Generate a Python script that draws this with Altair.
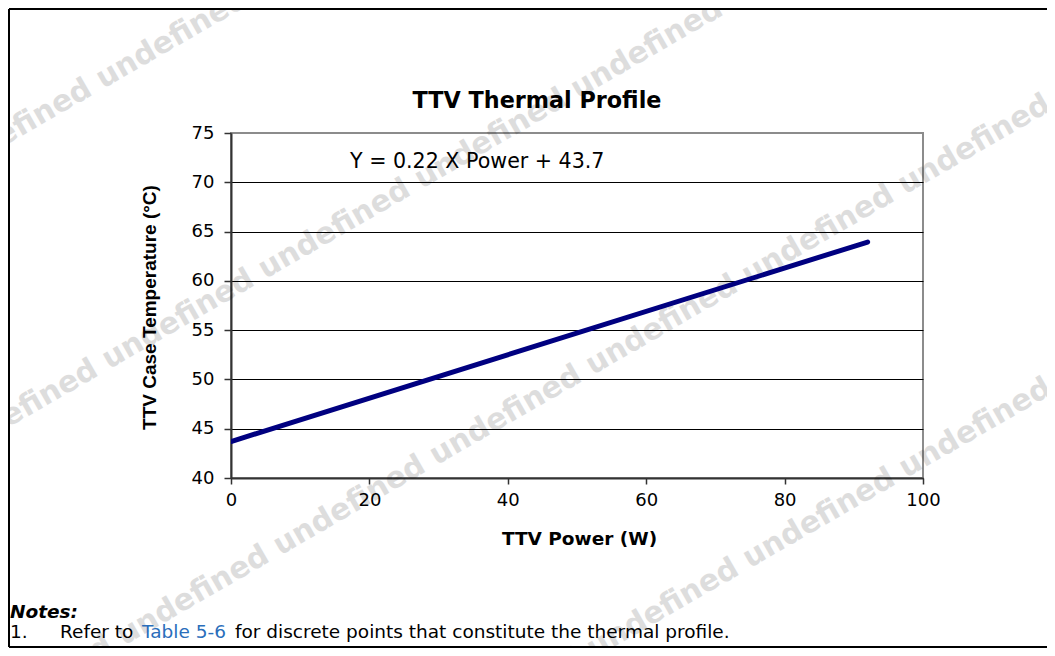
import altair as alt
import pandas as pd

# ---- data ----
power = [0, 92]                 # TTV Power (W)
temperature = [43.7, 63.94]     # TTV Case Temperature (°C)

x_ticks = [0, 20, 40, 60, 80, 100]
y_ticks = [40, 45, 50, 55, 60, 65, 70, 75]

chart_title = "TTV Thermal Profile"
x_title = "TTV Power (W)"
y_title = "TTV Case Temperature (°C)"
equation = "Y = 0.22 X Power + 43.7"
equation_at = [17.2, 71.45]     # (power, temperature) where the label starts

notes_head = "Notes:"
note_num = "1."
note_a = "Refer to"
note_link = "Table 5-6"
note_b = "for discrete points that constitute the thermal profile."

watermark_word = "undefined"

# ---- layout (pixels) ----
W, H = 692, 345
PL, PT = 223, 125
TOTAL_W, TOTAL_H = 1039, 640
OX, OY = 8 + PL, 8 + PT          # page position of plot origin

one = pd.DataFrame({"k": [0]})
layers = []

# watermark lines: (intercept b of y = b - tan30*x on page, page x where a word starts)
wm_lines = [(138, 100), (422, 263), (707, 592), (991, 907)]
period_h = 157
for b, ux in wm_lines:
    sx = ux
    while sx > -150:
        sx -= period_h
    sy = b - 0.5774 * sx
    txt = " ".join([watermark_word] * 12)
    layers.append(
        alt.Chart(one).mark_text(
            text=txt, angle=330, align="left", baseline="middle",
            font="DejaVu Sans", fontWeight="bold", fontSize=30,
            color="#000000", opacity=0.13,
        ).encode(x=alt.value(sx - OX), y=alt.value(sy - OY))
    )

# frame lines
left_x = -PL + 1
top_y = -PT + 1
bot_y = TOTAL_H - PT - 1
right_x = TOTAL_W - PL
layers.append(alt.Chart(one).mark_rule(color="#000000", strokeWidth=2).encode(
    x=alt.value(left_x), x2=alt.value(left_x), y=alt.value(top_y), y2=alt.value(bot_y)))
layers.append(alt.Chart(one).mark_rule(color="#000000", strokeWidth=2).encode(
    x=alt.value(left_x), x2=alt.value(right_x), y=alt.value(top_y), y2=alt.value(top_y)))
layers.append(alt.Chart(one).mark_rule(color="#000000", strokeWidth=2).encode(
    x=alt.value(left_x), x2=alt.value(right_x), y=alt.value(bot_y), y2=alt.value(bot_y)))

# main line
df = pd.DataFrame({"power": power, "temp": temperature})
line = alt.Chart(df).mark_line(color="#000080", strokeWidth=5, clip=True, strokeCap="round").encode(
    x=alt.X("power:Q", scale=alt.Scale(domain=[0, 100], nice=False, zero=False),
            axis=alt.Axis(values=x_ticks, grid=False, title=x_title,
                          domainColor="#333333", domainWidth=2,
                          tickColor="#333333", tickWidth=1.5, tickSize=6,
                          labelFont="DejaVu Sans", labelFontSize=18, labelColor="#000000",
                          labelPadding=7, labelFlush=False,
                          titleFont="DejaVu Sans", titleFontSize=18.5, titleFontWeight="bold",
                          titleColor="#000000", titleBaseline="alphabetic",
                          titleX=348, titleY=66, titleAlign="center")),
    y=alt.Y("temp:Q", scale=alt.Scale(domain=[40, 75], nice=False, zero=False),
            axis=alt.Axis(values=y_ticks, grid=True, title=y_title,
                          gridColor=alt.condition("datum.value == 75", alt.value("#8c8c8c"), alt.value("#000000")),
                          gridWidth=1,
                          domainColor="#333333", domainWidth=2,
                          tickColor="#333333", tickWidth=1.5, tickSize=7,
                          labelFont="DejaVu Sans", labelFontSize=18, labelColor="#000000",
                          labelPadding=10, labelFlush=False,
                          titleFont="Liberation Sans", titleFontSize=19, titleFontWeight="bold",
                          titleColor="#000000", titleBaseline="alphabetic", titleAngle=270,
                          titleX=-76, titleY=174, titleAlign="center")),
)
layers.append(line)

# equation label in data coordinates
eq_df = pd.DataFrame({"power": [equation_at[0]], "temp": [equation_at[1]], "label": [equation]})
layers.append(alt.Chart(eq_df).mark_text(
    align="left", baseline="alphabetic", font="DejaVu Sans", fontSize=20.6, color="#000000"
).encode(x="power:Q", y="temp:Q", text="label:N"))

# chart title
layers.append(alt.Chart(one).mark_text(
    text=chart_title, align="center", baseline="alphabetic",
    font="DejaVu Sans", fontWeight="bold", fontSize=22.3, color="#000000"
).encode(x=alt.value(537 - OX), y=alt.value(108 - OY)))

# notes
def note(text, px, py, bold=False, italic=False, color="#000000"):
    kw = dict(text=text, align="left", baseline="alphabetic", font="DejaVu Sans",
              fontSize=18.5, color=color)
    if bold:
        kw["fontWeight"] = "bold"
    if italic:
        kw["fontStyle"] = "italic"
    return alt.Chart(one).mark_text(**kw).encode(x=alt.value(px - OX), y=alt.value(py - OY))

layers.append(note(notes_head, 10, 618, bold=True, italic=True))
layers.append(note(note_num, 10, 638))
layers.append(note(note_a, 60, 638))
layers.append(note(note_link, 142, 638, color="#2a6ebb"))
layers.append(note(note_b, 235, 638))

chart = alt.layer(*layers).properties(
    width=W, height=H,
    padding={"left": PL, "top": PT, "right": TOTAL_W - PL - W, "bottom": TOTAL_H - PT - H},
    autosize=alt.AutoSizeParams(type="none"),
    background="#ffffff",
).configure_view(stroke="#8c8c8c", strokeWidth=2)

chart.save("out.html", embed_options={"renderer": "svg", "actions": False})
